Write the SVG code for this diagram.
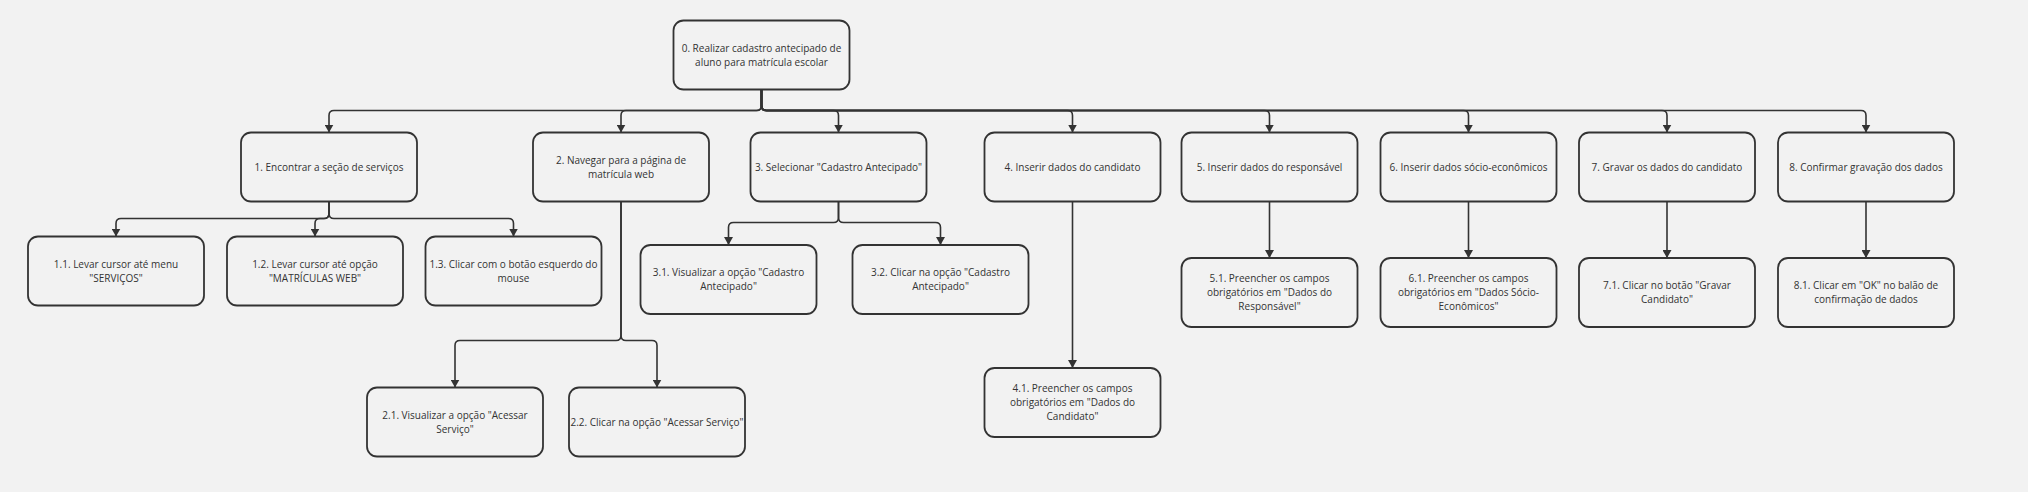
<svg xmlns="http://www.w3.org/2000/svg" width="2028" height="492" viewBox="0 0 2028 492">
<style>
.bg{fill:#f2f2f2}
.box{fill:#f2f2f2;stroke:#333;stroke-width:1.8}
.t{font-family:"Open Sans","Liberation Sans",sans-serif;font-size:10px;fill:#333;text-anchor:middle}
.c{fill:none;stroke:#333;stroke-width:1.6;marker-end:url(#ah)}
</style>
<defs>
<marker id="ah" markerUnits="userSpaceOnUse" viewBox="0 0 8 9" refX="8" refY="4.5" markerWidth="8" markerHeight="9" orient="auto">
<path d="M0,0 L8,4.5 L0,9 z" fill="#333"/>
</marker>
</defs>
<rect class="bg" x="0" y="0" width="2028" height="492"/>
<g id="connectors">
<path class="c" d="M761.5,89.5 V105.5 Q761.5,110.5 756.5,110.5 H334 Q329,110.5 329,115.5 V132.5"/>
<path class="c" d="M761.5,89.5 V105.5 Q761.5,110.5 756.5,110.5 H626 Q621,110.5 621,115.5 V132.5"/>
<path class="c" d="M761.5,89.5 V105.5 Q761.5,110.5 766.5,110.5 H833.5 Q838.5,110.5 838.5,115.5 V132.5"/>
<path class="c" d="M761.5,89.5 V105.5 Q761.5,110.5 766.5,110.5 H1067.5 Q1072.5,110.5 1072.5,115.5 V132.5"/>
<path class="c" d="M761.5,89.5 V105.5 Q761.5,110.5 766.5,110.5 H1264.5 Q1269.5,110.5 1269.5,115.5 V132.5"/>
<path class="c" d="M761.5,89.5 V105.5 Q761.5,110.5 766.5,110.5 H1463.5 Q1468.5,110.5 1468.5,115.5 V132.5"/>
<path class="c" d="M761.5,89.5 V105.5 Q761.5,110.5 766.5,110.5 H1662 Q1667,110.5 1667,115.5 V132.5"/>
<path class="c" d="M761.5,89.5 V105.5 Q761.5,110.5 766.5,110.5 H1861 Q1866,110.5 1866,115.5 V132.5"/>
<path class="c" d="M329,201.5 V213.5 Q329,218.5 324,218.5 H121 Q116,218.5 116,223.5 V236.5"/>
<path class="c" d="M329,201.5 V213.5 Q329,218.5 324,218.5 H320 Q315,218.5 315,223.5 V236.5"/>
<path class="c" d="M329,201.5 V213.5 Q329,218.5 334,218.5 H508.5 Q513.5,218.5 513.5,223.5 V236.5"/>
<path class="c" d="M621,201.5 V335.5 Q621,340.5 616,340.5 H460 Q455,340.5 455,345.5 V387.5"/>
<path class="c" d="M621,201.5 V335.5 Q621,340.5 626,340.5 H652 Q657,340.5 657,345.5 V387.5"/>
<path class="c" d="M838.5,201.5 V217.5 Q838.5,222.5 833.5,222.5 H733.5 Q728.5,222.5 728.5,227.5 V245"/>
<path class="c" d="M838.5,201.5 V217.5 Q838.5,222.5 843.5,222.5 H935.5 Q940.5,222.5 940.5,227.5 V245"/>
<path class="c" d="M1072.5,201.5 V368"/>
<path class="c" d="M1269.5,201.5 V258"/>
<path class="c" d="M1468.5,201.5 V258"/>
<path class="c" d="M1667,201.5 V258"/>
<path class="c" d="M1866,201.5 V258"/>
</g>
<g id="n0"><rect class="box" x="673.5" y="20.5" width="176" height="69" rx="10"/><text class="t" x="761.5" y="51.5">0. Realizar cadastro antecipado de</text><text class="t" x="761.5" y="65.5">aluno para matrícula escolar</text></g>
<g id="n1"><rect class="box" x="241" y="132.5" width="176" height="69" rx="10"/><text class="t" x="329" y="170.5">1. Encontrar a seção de serviços</text></g>
<g id="n2"><rect class="box" x="533" y="132.5" width="176" height="69" rx="10"/><text class="t" x="621" y="163.5">2. Navegar para a página de</text><text class="t" x="621" y="177.5">matrícula web</text></g>
<g id="n3"><rect class="box" x="750.5" y="132.5" width="176" height="69" rx="10"/><text class="t" x="838.5" y="170.5">3. Selecionar "Cadastro Antecipado"</text></g>
<g id="n4"><rect class="box" x="984.5" y="132.5" width="176" height="69" rx="10"/><text class="t" x="1072.5" y="170.5">4. Inserir dados do candidato</text></g>
<g id="n5"><rect class="box" x="1181.5" y="132.5" width="176" height="69" rx="10"/><text class="t" x="1269.5" y="170.5">5. Inserir dados do responsável</text></g>
<g id="n6"><rect class="box" x="1380.5" y="132.5" width="176" height="69" rx="10"/><text class="t" x="1468.5" y="170.5">6. Inserir dados sócio-econômicos</text></g>
<g id="n7"><rect class="box" x="1579" y="132.5" width="176" height="69" rx="10"/><text class="t" x="1667" y="170.5">7. Gravar os dados do candidato</text></g>
<g id="n8"><rect class="box" x="1778" y="132.5" width="176" height="69" rx="10"/><text class="t" x="1866" y="170.5">8. Confirmar gravação dos dados</text></g>
<g id="n1_1"><rect class="box" x="28" y="236.5" width="176" height="69" rx="10"/><text class="t" x="116" y="267.5">1.1. Levar cursor até menu</text><text class="t" x="116" y="281.5">"SERVIÇOS"</text></g>
<g id="n1_2"><rect class="box" x="227" y="236.5" width="176" height="69" rx="10"/><text class="t" x="315" y="267.5">1.2. Levar cursor até opção</text><text class="t" x="315" y="281.5">"MATRÍCULAS WEB"</text></g>
<g id="n1_3"><rect class="box" x="425.5" y="236.5" width="176" height="69" rx="10"/><text class="t" x="513.5" y="267.5">1.3. Clicar com o botão esquerdo do</text><text class="t" x="513.5" y="281.5">mouse</text></g>
<g id="n2_1"><rect class="box" x="367" y="387.5" width="176" height="69" rx="10"/><text class="t" x="455" y="418.5">2.1. Visualizar a opção "Acessar</text><text class="t" x="455" y="432.5">Serviço"</text></g>
<g id="n2_2"><rect class="box" x="569" y="387.5" width="176" height="69" rx="10"/><text class="t" x="657" y="425.5">2.2. Clicar na opção "Acessar Serviço"</text></g>
<g id="n3_1"><rect class="box" x="640.5" y="245" width="176" height="69" rx="10"/><text class="t" x="728.5" y="276">3.1. Visualizar a opção "Cadastro</text><text class="t" x="728.5" y="290">Antecipado"</text></g>
<g id="n3_2"><rect class="box" x="852.5" y="245" width="176" height="69" rx="10"/><text class="t" x="940.5" y="276">3.2. Clicar na opção "Cadastro</text><text class="t" x="940.5" y="290">Antecipado"</text></g>
<g id="n4_1"><rect class="box" x="984.5" y="368" width="176" height="69" rx="10"/><text class="t" x="1072.5" y="392">4.1. Preencher os campos</text><text class="t" x="1072.5" y="406">obrigatórios em "Dados do</text><text class="t" x="1072.5" y="420">Candidato"</text></g>
<g id="n5_1"><rect class="box" x="1181.5" y="258" width="176" height="69" rx="10"/><text class="t" x="1269.5" y="282">5.1. Preencher os campos</text><text class="t" x="1269.5" y="296">obrigatórios em "Dados do</text><text class="t" x="1269.5" y="310">Responsável"</text></g>
<g id="n6_1"><rect class="box" x="1380.5" y="258" width="176" height="69" rx="10"/><text class="t" x="1468.5" y="282">6.1. Preencher os campos</text><text class="t" x="1468.5" y="296">obrigatórios em "Dados Sócio-</text><text class="t" x="1468.5" y="310">Econômicos"</text></g>
<g id="n7_1"><rect class="box" x="1579" y="258" width="176" height="69" rx="10"/><text class="t" x="1667" y="289">7.1. Clicar no botão "Gravar</text><text class="t" x="1667" y="303">Candidato"</text></g>
<g id="n8_1"><rect class="box" x="1778" y="258" width="176" height="69" rx="10"/><text class="t" x="1866" y="289">8.1. Clicar em "OK" no balão de</text><text class="t" x="1866" y="303">confirmação de dados</text></g>
</svg>
